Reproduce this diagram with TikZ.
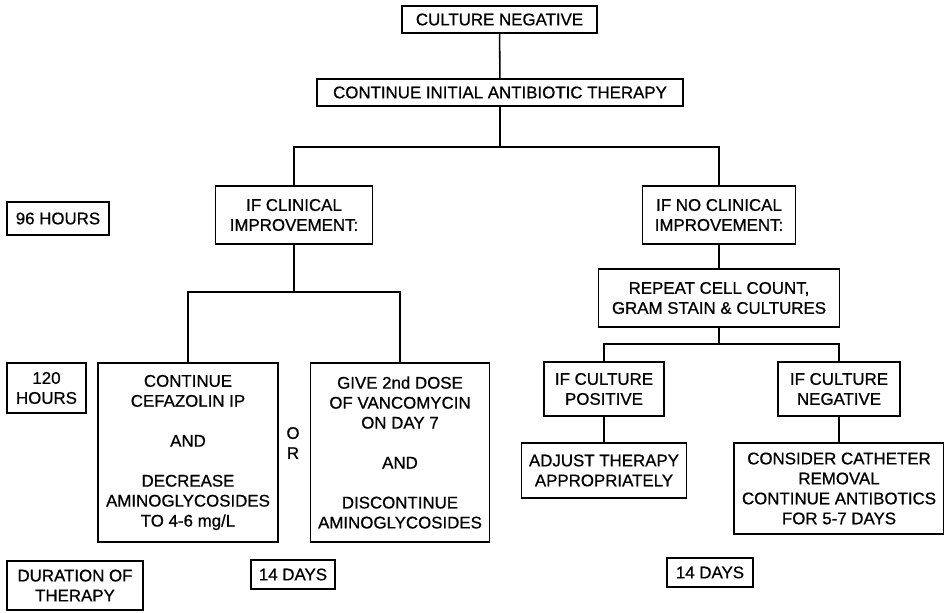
\documentclass[tikz,border=0pt]{standalone}
\usepackage{fontspec}
\setmainfont{Liberation Sans}[FakeBold=0.7]
\usetikzlibrary{positioning}

\begin{document}
\begin{tikzpicture}[
    x=0.025cm, y=-0.025cm,
    box/.style={draw, line width=1.1pt, align=center, inner sep=0pt,
        font=\fontsize{12}{14.2}\selectfont},
    link/.style={draw, line width=1.1pt}
]
    \useasboundingbox (0,0) rectangle (944,612);

    % top of the chart
    \node[box, minimum width=4.875cm, minimum height=0.675cm] (neg) at (499.5,19.5) {CULTURE NEGATIVE};
    \node[box, minimum width=9.15cm, minimum height=0.675cm] (cont) at (500,92.5) {CONTINUE INITIAL ANTIBIOTIC THERAPY};

    % time line on the left
    \node[box, minimum width=2.55cm, minimum height=0.825cm] (h96) at (58,218.5) {96 HOURS};
    \node[box, minimum width=1.975cm, minimum height=1.25cm] (h120) at (46.5,388) {120\\HOURS};
    \node[box, minimum width=3.4cm, minimum height=1.225cm] (dur) at (75,585.5) {DURATION OF\\THERAPY};

    % clinical improvement
    \node[box, minimum width=3.925cm, minimum height=1.45cm] (improve) at (294,215) {IF CLINICAL\\IMPROVEMENT:};
    \node[box, minimum width=4.5cm, minimum height=4.475cm] (cefaz) at (188,452.5)
        {CONTINUE\\CEFAZOLIN IP\\[14.2pt]AND\\[14.2pt]DECREASE\\AMINOGLYCOSIDES\\TO 4-6 mg/L};
    \node[box, minimum width=4.475cm, minimum height=4.475cm] (vanco) at (400,452.5)
        {GIVE 2nd DOSE\\OF VANCOMYCIN\\ON DAY 7\\[14.2pt]AND\\[14.2pt]DISCONTINUE\\AMINOGLYCOSIDES};
    \node[align=center, font=\fontsize{12}{14.2}\selectfont] (or) at (293,443) {O\\R};
    \node[box, minimum width=2.1cm, minimum height=0.725cm] (days1) at (293,574.5) {14 DAYS};

    % no clinical improvement
    \node[box, minimum width=3.825cm, minimum height=1.45cm] (noimprove) at (719,215) {IF NO CLINICAL\\IMPROVEMENT:};
    \node[box, minimum width=6.025cm, minimum height=1.45cm] (repeat) at (719,298) {REPEAT CELL COUNT,\\GRAM STAIN \& CULTURES};
    \node[box, minimum width=3cm, minimum height=1.35cm] (pos) at (604,389) {IF CULTURE\\POSITIVE};
    \node[box, minimum width=4.125cm, minimum height=1.375cm] (adjust) at (604,470.5) {ADJUST THERAPY\\APPROPRIATELY};
    \node[box, minimum width=3.05cm, minimum height=1.35cm] (negc) at (839,389) {IF CULTURE\\NEGATIVE};
    \node[box, minimum width=5.25cm, minimum height=2.275cm] (consider) at (839,488.5)
        {CONSIDER CATHETER\\REMOVAL\\CONTINUE ANTIBOTICS\\FOR 5-7 DAYS};
    \node[box, minimum width=2.15cm, minimum height=0.725cm] (days2) at (710,572.5) {14 DAYS};

    % branch points
    \coordinate (split1) at (500,147);
    \coordinate (split2) at (294,292);
    \coordinate (split3) at (719,344);

    \draw[link] (neg) -- (cont);
    \draw[link] (cont) -- (split1);
    \draw[link] (improve.north) |- (split1) -| (noimprove.north);
    \draw[link] (improve) -- (split2);
    \draw[link] (cefaz.north) |- (split2) -| (vanco.north);
    \draw[link] (noimprove) -- (repeat);
    \draw[link] (repeat) -- (split3);
    \draw[link] (pos.north) |- (split3) -| (negc.north);
    \draw[link] (pos) -- (adjust);
    \draw[link] (negc) -- (consider);
\end{tikzpicture}
\end{document}
